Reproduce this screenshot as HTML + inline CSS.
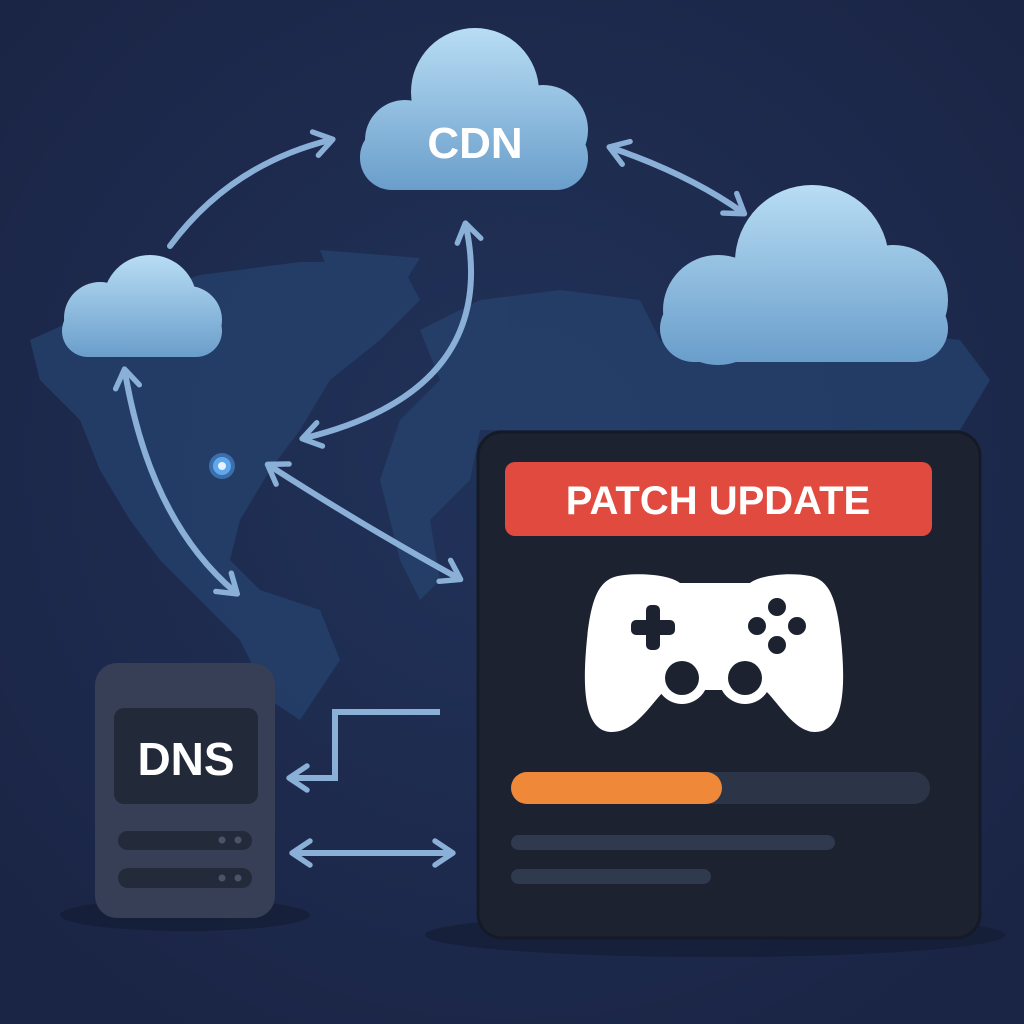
<!DOCTYPE html>
<html><head><meta charset="utf-8"><style>
html,body{margin:0;padding:0;background:#1c2747;}
svg{display:block}
text{font-family:"Liberation Sans",sans-serif;font-weight:bold}
</style></head><body>
<svg width="1024" height="1024" viewBox="0 0 1024 1024" xmlns="http://www.w3.org/2000/svg">
<defs>
<radialGradient id="bg" cx="50%" cy="45%" r="70%"><stop offset="0" stop-color="#213259"/><stop offset="1" stop-color="#1a2444"/></radialGradient>
<linearGradient id="c1" gradientUnits="userSpaceOnUse" x1="0" y1="28" x2="0" y2="190"><stop offset="0" stop-color="#b8ddf4"/><stop offset="1" stop-color="#6a9ecb"/></linearGradient>
<linearGradient id="c2" gradientUnits="userSpaceOnUse" x1="0" y1="255" x2="0" y2="357"><stop offset="0" stop-color="#b8ddf4"/><stop offset="1" stop-color="#6a9ecb"/></linearGradient>
<linearGradient id="c3" gradientUnits="userSpaceOnUse" x1="0" y1="185" x2="0" y2="362"><stop offset="0" stop-color="#b8ddf4"/><stop offset="1" stop-color="#6a9ecb"/></linearGradient>
<marker id="ah" viewBox="0 0 10 10" refX="6" refY="5" markerWidth="5" markerHeight="5" orient="auto-start-reverse"><path d="M1 1 L7 5 L1 9" fill="none" stroke="#8bb0d8" stroke-width="1.8" stroke-linecap="round" stroke-linejoin="round"/></marker>
</defs>
<rect width="1024" height="1024" fill="url(#bg)"/>
<g fill="#26436e" opacity="0.75">
<path d="M30 340 L120 300 L200 275 L300 262 L400 262 L420 300 L380 340 L330 380 L300 430 L270 470 L240 520 L230 560 L260 590 L320 610 L340 660 L300 720 L270 700 L240 640 L200 600 L160 560 L130 520 L100 470 L80 420 L40 380 Z"/>
<path d="M420 330 L480 300 L560 290 L640 300 L660 340 L700 360 L760 340 L860 330 L960 340 L990 380 L960 430 L480 430 L470 480 L430 520 L440 580 L420 600 L400 560 L380 480 L400 420 L440 380 Z"/>
<path d="M320 250 L420 258 L400 290 L340 300 Z"/>
</g>
<g fill="none" stroke="#8bb0d8" stroke-width="6" stroke-linecap="round" marker-end="url(#ah)">
<path d="M170 246 Q230 165 330 140"/>
<path d="M612 148 Q690 175 742 212" marker-start="url(#ah)"/>
<path d="M466 226 Q500 390 305 438" marker-start="url(#ah)"/>
<path d="M125 372 Q150 520 235 592" marker-start="url(#ah)"/>
<path d="M270 466 Q370 530 458 578" marker-start="url(#ah)"/>
<path d="M440 712 L335 712 L335 778 L292 778" stroke-linecap="butt"/>
<path d="M295 853 L450 853" marker-start="url(#ah)"/>
</g>
<circle cx="222" cy="466" r="13" fill="#4c8fd8" opacity="0.6"/>
<circle cx="222" cy="466" r="9" fill="#5fa8ef"/>
<circle cx="222" cy="466" r="4" fill="#e8f3ff"/>
<g fill="url(#c1)">
<rect x="360" y="125" width="228" height="65" rx="32"/>
<circle cx="405" cy="140" r="40"/><circle cx="475" cy="92" r="64"/><circle cx="543" cy="130" r="45"/>
</g>
<g fill="url(#c2)">
<rect x="62" y="305" width="160" height="52" rx="26"/>
<circle cx="100" cy="318" r="36"/><circle cx="150" cy="302" r="47"/><circle cx="188" cy="320" r="34"/>
</g>
<g fill="url(#c3)">
<rect x="660" y="295" width="288" height="67" rx="34"/>
<circle cx="718" cy="310" r="55"/><circle cx="812" cy="262" r="77"/><circle cx="893" cy="300" r="55"/>
</g>
<text x="475" y="158" font-size="44" fill="#fff" text-anchor="middle">CDN</text>
<ellipse cx="185" cy="915" rx="125" ry="16" fill="#141c33" opacity="0.7"/>
<ellipse cx="715" cy="935" rx="290" ry="22" fill="#141c33" opacity="0.7"/>
<rect x="95" y="663" width="180" height="255" rx="22" fill="#363f56"/>
<rect x="114" y="708" width="144" height="96" rx="10" fill="#222a39"/>
<text x="186" y="775" font-size="46" fill="#fff" text-anchor="middle">DNS</text>
<rect x="118" y="831" width="134" height="19" rx="9.5" fill="#232b3a"/>
<rect x="118" y="868" width="134" height="20" rx="10" fill="#232b3a"/>
<g fill="#4a5468"><circle cx="222" cy="840" r="3.5"/><circle cx="238" cy="840" r="3.5"/><circle cx="222" cy="878" r="3.5"/><circle cx="238" cy="878" r="3.5"/></g>
<rect x="478" y="432" width="502" height="506" rx="24" fill="#1c2230" stroke="#141a26" stroke-width="3"/>
<rect x="505" y="462" width="427" height="74" rx="10" fill="#e04a3f"/>
<text x="718" y="514" font-size="40" fill="#fff" text-anchor="middle">PATCH UPDATE</text>
<path d="M680 583 L750 583 C760 575 790 572 810 576 C830 580 838 600 842 650 C846 700 840 732 815 732 C795 732 780 705 765 690 L665 690 C650 705 635 732 612 732 C588 732 582 700 586 650 C590 600 598 580 618 576 C640 572 670 575 680 583 Z" fill="#fff"/>
<circle cx="682" cy="678" r="26" fill="#fff"/><circle cx="745" cy="678" r="26" fill="#fff"/>
<circle cx="682" cy="678" r="17" fill="#1c2230"/><circle cx="745" cy="678" r="17" fill="#1c2230"/>
<g fill="#1c2230">
<rect x="631" y="620" width="44" height="15" rx="5"/><rect x="646" y="605" width="14" height="45" rx="5"/>
<circle cx="777" cy="607" r="9"/><circle cx="777" cy="645" r="9"/><circle cx="757" cy="626" r="9"/><circle cx="797" cy="626" r="9"/>
</g>
<rect x="511" y="772" width="419" height="32" rx="16" fill="#2c3547"/>
<rect x="511" y="772" width="211" height="32" rx="16" fill="#f0883a"/>
<rect x="511" y="835" width="324" height="15" rx="7.5" fill="#2f3a4e"/>
<rect x="511" y="869" width="200" height="15" rx="7.5" fill="#2f3a4e"/>
</svg>
</body></html>
